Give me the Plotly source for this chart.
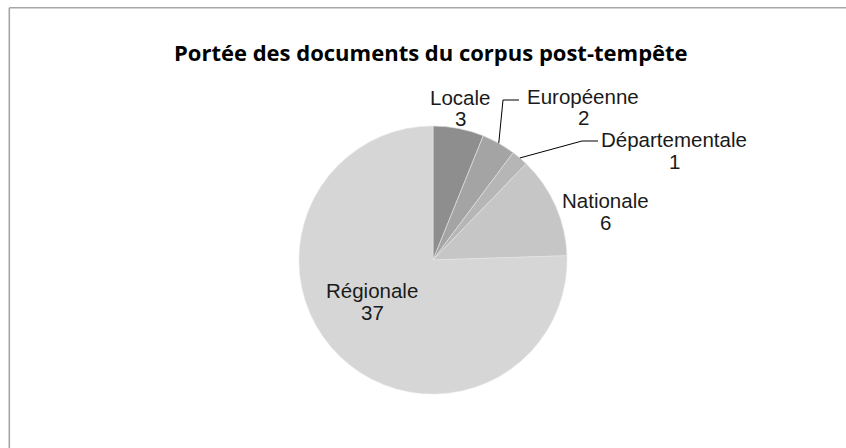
import math
import plotly.graph_objects as go

# Data
categories = ["Locale", "Européenne", "Départementale", "Nationale", "Régionale"]
values = [3, 2, 1, 6, 37]
colors = ["#8e8e8e", "#a4a4a4", "#b6b6b6", "#c6c6c6", "#d6d6d6"]
title_text = "Portée des documents du corpus post-tempête"

W, H = 846, 448
CX, CY, R = 433, 260, 134  # pie center/radius in px (layout)

def px(x):
    return x / W

def py(y):
    return 1 - y / H

fig = go.Figure()
fig.add_trace(go.Pie(
    labels=categories,
    values=values,
    sort=False,
    direction="clockwise",
    rotation=0,
    marker=dict(colors=colors, line=dict(color="#e6e6e6", width=0.6)),
    textinfo="none",
    hoverinfo="label+value",
    showlegend=False,
    domain=dict(x=[px(CX - R), px(CX + R)], y=[py(CY + R), py(CY - R)]),
))

# label positions (layout): name center, value center
label_pos = {
    "Locale": (460, 97, 118),
    "Européenne": (583, 96, 117),
    "Départementale": (674, 139, 161),
    "Nationale": (605, 200, 222),
    "Régionale": (372, 290, 312),
}
font = dict(family="Liberation Sans, Arial", size=20.5, color="#1a1a1a")
annotations = []
for cat, val in zip(categories, values):
    x, y1, y2 = label_pos[cat]
    annotations.append(dict(x=px(x), y=py(y1), xref="paper", yref="paper", text=cat,
                            showarrow=False, font=font, xanchor="center", yanchor="middle"))
    annotations.append(dict(x=px(x), y=py(y2), xref="paper", yref="paper", text=str(val),
                            showarrow=False, font=font, xanchor="center", yanchor="middle"))

# leader lines from slice mid-edge to label
total = sum(values)
cum = 0
mids = {}
for cat, val in zip(categories, values):
    a = (cum + val / 2) / total * 2 * math.pi
    mids[cat] = (CX + R * math.sin(a), CY - R * math.cos(a))
    cum += val

leaders = {
    "Européenne": [(503, 100), (519, 100)],
    "Départementale": [(582, 141), (598, 141)],
}
shapes = []
for cat, pts in leaders.items():
    sx, sy = mids[cat]
    path = f"M {px(sx)},{py(sy)} " + " ".join(f"L {px(x)},{py(y)}" for x, y in pts)
    shapes.append(dict(type="path", xref="paper", yref="paper", path=path,
                       line=dict(color="#000000", width=1)))

# chart border (left and top edges; right/bottom lie outside the view)
border = dict(color="#a6a6a6", width=1.6)
shapes.append(dict(type="line", xref="paper", yref="paper",
                   x0=px(9.3), x1=px(9.3), y0=0, y1=py(7.7), line=border))
shapes.append(dict(type="line", xref="paper", yref="paper",
                   x0=px(9.3), x1=1, y0=py(7.7), y1=py(7.7), line=border))

annotations.append(dict(x=px(431), y=py(52), xref="paper", yref="paper",
                        text="<b>" + title_text + "</b>", showarrow=False,
                        font=dict(family="Open Sans", size=22, color="#000000"),
                        xanchor="center", yanchor="middle"))

fig.update_layout(
    width=W, height=H,
    margin=dict(l=0, r=0, t=0, b=0),
    paper_bgcolor="white", plot_bgcolor="white",
    annotations=annotations, shapes=shapes,
)
fig.write_html("out.html",
               config={"displayModeBar": False},
               post_script="document.body.style.margin='0';document.body.style.overflow='hidden';")
